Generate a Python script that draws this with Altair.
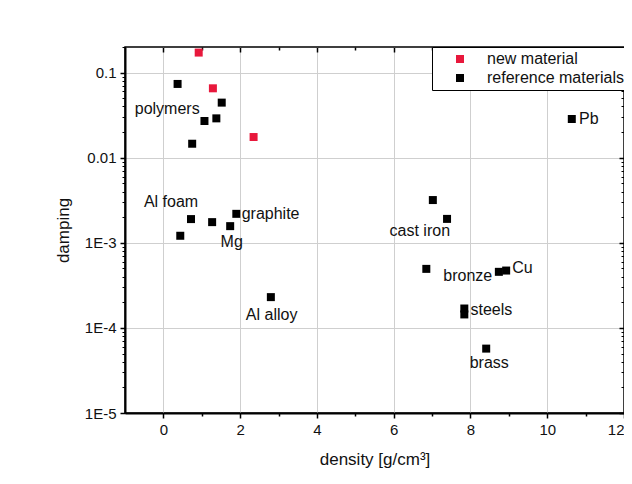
import altair as alt
import pandas as pd

# ---- data ----
new_x = [0.92, 1.29, 2.35]
new_y = [0.172, 0.0654, 0.0175]

ref_x = [0.37, 1.52, 1.38, 1.07, 0.75, 0.72, 1.27, 1.90, 1.74, 0.44, 2.80,
         7.02, 7.39, 6.85, 8.74, 8.93, 7.84, 7.84, 8.41, 10.64]
ref_y = [0.0736, 0.0444, 0.029, 0.027, 0.0146, 0.0019, 0.00175, 0.00219,
         0.00157, 0.00121, 0.00023, 0.00318, 0.00191, 0.000494, 0.000456,
         0.000472, 0.000169, 0.000144, 5.71e-5, 0.0285]

label_text = ["polymers", "Al foam", "graphite", "Mg", "Al alloy", "cast iron",
              "bronze", "Cu", "steels", "brass", "Pb"]
label_x = [0.10, 0.20, 2.04, 1.78, 2.82, 6.68, 7.93, 9.09, 8.00, 8.49, 10.83]
label_y = [0.037, 0.00298, 0.00219, 0.00101, 0.000141, 0.00137, 0.000406,
           0.000508, 0.000161, 3.87e-5, 0.0288]
label_align = ["center", "center", "left", "center", "center", "center",
               "center", "left", "left", "center", "left"]

series_names = ["new material", "reference materials"]
series_colors = ["#e8183c", "#000000"]

x_major = [0, 2, 4, 6, 8, 10, 12]
x_grid = [0, 2, 4, 6, 8, 10]
x_minor = [1, 3, 5, 7, 9, 11]
y_major = [1e-5, 1e-4, 1e-3, 1e-2, 1e-1]
y_tick_labels = ["1E-5", "1E-4", "1E-3", "0.01", "0.1"]
y_minor = [k * 10.0 ** e for e in range(-5, 0) for k in range(2, 10) if k * 10.0 ** e <= 0.2]

x_domain = [-1, 12]
y_domain = [1e-5, 0.2]

FONT = "Liberation Sans"

pts = pd.DataFrame({
    "density": new_x + ref_x,
    "damping": new_y + ref_y,
    "type": [series_names[0]] * len(new_x) + [series_names[1]] * len(ref_x),
})
labels = pd.DataFrame({"density": label_x, "damping": label_y,
                       "text": label_text, "align": label_align})

xs = alt.Scale(domain=x_domain, nice=False, zero=False)
ys = alt.Scale(type="log", domain=y_domain, nice=False)

label_expr = "[" + ",".join("'%s'" % s for s in y_tick_labels) + "][round(log(datum.value)/LN10)+5]"

points = alt.Chart(pts).mark_square(size=64, opacity=1).encode(
    x=alt.X("density:Q", scale=xs, axis=alt.Axis(
        orient="bottom", values=x_major, title="density [g/cm³]",
        tickSize=5, labelPadding=4, titlePadding=14, grid=False,
        labelFontSize=15, titleFontSize=17, labelFont=FONT, titleFont=FONT,
        labelColor="#111", titleColor="#111", titleFontWeight="normal",
        domainColor="black", domainWidth=2, tickColor="black", tickWidth=1.5,
        labelFlush=True)),
    y=alt.Y("damping:Q", scale=ys, axis=alt.Axis(
        orient="left", values=y_major, labelExpr=label_expr, title="damping",
        tickSize=5, labelPadding=4, titlePadding=12, grid=False,
        labelFontSize=15, titleFontSize=17, labelFont=FONT, titleFont=FONT,
        labelColor="#111", titleColor="#111", titleFontWeight="normal",
        domainColor="black", domainWidth=2, tickColor="black", tickWidth=1.5)),
    color=alt.Color("type:N", scale=alt.Scale(domain=series_names, range=series_colors),
                    legend=alt.Legend(
                        title=None, orient="none", legendX=307, legendY=0,
                        strokeColor="black", fillColor="white", padding=4,
                        symbolType="square", symbolSize=64, symbolOffset=16,
                        labelOffset=19, labelFontSize=16, labelFont=FONT,
                        labelColor="#111", rowPadding=3, symbolStrokeWidth=0)),
)

grid = alt.Chart(pts).mark_point(opacity=0).encode(
    x=alt.X("density:Q", scale=xs, axis=alt.Axis(
        orient="bottom", values=x_grid, grid=True, gridColor="#cfcfcf", gridWidth=1,
        labels=False, ticks=False, domain=False, title=None)),
    y=alt.Y("damping:Q", scale=ys, axis=alt.Axis(
        orient="left", values=y_major[1:], grid=True, gridColor="#cfcfcf", gridWidth=1,
        labels=False, ticks=False, domain=False, title=None)),
)

minor = alt.Chart(pts).mark_point(opacity=0).encode(
    x=alt.X("density:Q", scale=xs, axis=alt.Axis(
        orient="bottom", values=x_minor, tickSize=3, tickWidth=1.5, tickColor="black",
        labels=False, domain=False, grid=False, title=None)),
    y=alt.Y("damping:Q", scale=ys, axis=alt.Axis(
        orient="left", values=y_minor, tickSize=3, tickWidth=1, tickColor="black",
        labels=False, domain=False, grid=False, title=None)),
)

mirror_major = alt.Chart(pts).mark_point(opacity=0).encode(
    x=alt.X("density:Q", scale=xs, axis=alt.Axis(
        orient="top", values=x_major, tickSize=5, offset=-5, tickWidth=1.5,
        tickColor="black", labels=False, domain=False, grid=False, title=None)),
    y=alt.Y("damping:Q", scale=ys, axis=alt.Axis(
        orient="right", values=y_major, tickSize=5, offset=-5, tickWidth=1.5,
        tickColor="black", labels=False, domain=False, grid=False, title=None)),
)

mirror_minor = alt.Chart(pts).mark_point(opacity=0).encode(
    x=alt.X("density:Q", scale=xs, axis=alt.Axis(
        orient="top", values=x_minor, tickSize=3, offset=-3, tickWidth=1.5,
        tickColor="black", labels=False, domain=False, grid=False, title=None)),
    y=alt.Y("damping:Q", scale=ys, axis=alt.Axis(
        orient="right", values=y_minor, tickSize=3, offset=-3, tickWidth=1,
        tickColor="black", labels=False, domain=False, grid=False, title=None)),
)

def text_layer(align):
    return alt.Chart(labels).transform_filter(
        alt.datum.align == align
    ).mark_text(align=align, baseline="middle", fontSize=16, font=FONT, color="#111").encode(
        x=alt.X("density:Q", scale=xs, axis=None),
        y=alt.Y("damping:Q", scale=ys, axis=None),
        text="text:N",
    )

chart = alt.layer(
    grid, minor, mirror_major, mirror_minor, points,
    text_layer("center"), text_layer("left"),
).resolve_axis(x="independent", y="independent").properties(
    width=499, height=366,
    autosize=alt.AutoSizeParams(type="none"),
    padding={"left": 117, "top": 39, "right": 0, "bottom": 62},
    background="white",
).configure_view(stroke="black", strokeWidth=1.5)

chart.save("out.html", embed_options={"renderer": "svg", "actions": False})
